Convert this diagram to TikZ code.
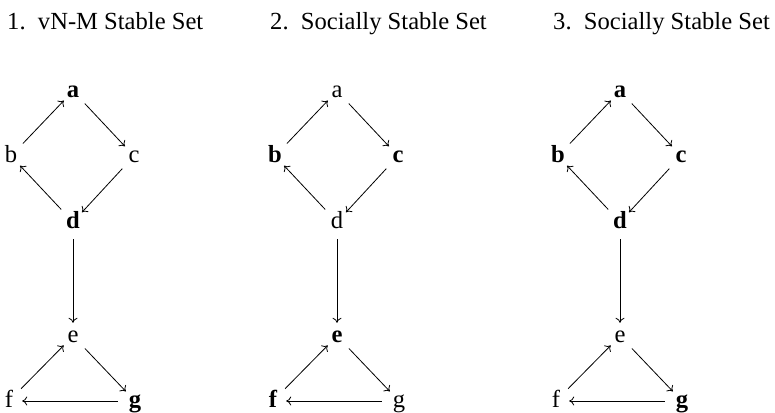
\documentclass[tikz,border=0pt]{standalone}
\usepackage{fontspec}
\setmainfont{Liberation Serif}
\usetikzlibrary{arrows.meta}
\newcommand\mypanel[9]{%
\begin{scope}[xshift=#2]
  \node[lab] (#1a) at (73,91)  {#3};
  \node[lab] (#1b) at (11,156) {#4};
  \node[lab] (#1c) at (134,156) {#5};
  \node[lab] (#1d) at (73,222) {#6};
  \node[lab] (#1e) at (73,336) {#7};
  \node[lab] (#1f) at (9,401)  {#8};
  \node[lab] (#1g) at (135,401) {#9};
  \draw[arr] (#1b) -- (#1a);
  \draw[arr] (#1a) -- (#1c);
  \draw[arr] (#1c) -- (#1d);
  \draw[arr] (#1d) -- (#1b);
  \draw[arr] (#1d) -- (#1e);
  \draw[arr] (#1f) -- (#1e);
  \draw[arr] (#1e) -- (#1g);
  \draw[arr] (#1g) -- (#1f);
\end{scope}}
\begin{document}
\begin{tikzpicture}[x=1pt,y=-1pt,
  lab/.style={circle, inner sep=0pt, minimum size=26pt, text height=12pt, text depth=0pt, font=\fontsize{24.6}{30}\selectfont},
  ttl/.style={anchor=base west, inner sep=0pt, font=\fontsize{24.6}{30}\selectfont},
  arr/.style={-{To[length=5pt,width=9pt]}, line width=0.8pt, shorten <=4pt},
]
\useasboundingbox (0,0) rectangle (775,412);
\node[ttl] (t1) at (7,30)   {1.\ \ vN-M Stable Set};
\node[ttl] (t2) at (270,30) {2.\ \ Socially Stable Set};
\node[ttl] (t3) at (553,30) {3.\ \ Socially Stable Set};
\mypanel{p}{0pt}{\textbf{a}}{b}{c}{\textbf{d}}{e}{f}{\textbf{g}}
\mypanel{q}{264pt}{a}{\textbf{b}}{\textbf{c}}{d}{\textbf{e}}{\textbf{f}}{g}
\mypanel{r}{547pt}{\textbf{a}}{\textbf{b}}{\textbf{c}}{\textbf{d}}{e}{f}{\textbf{g}}
\end{tikzpicture}
\end{document}
